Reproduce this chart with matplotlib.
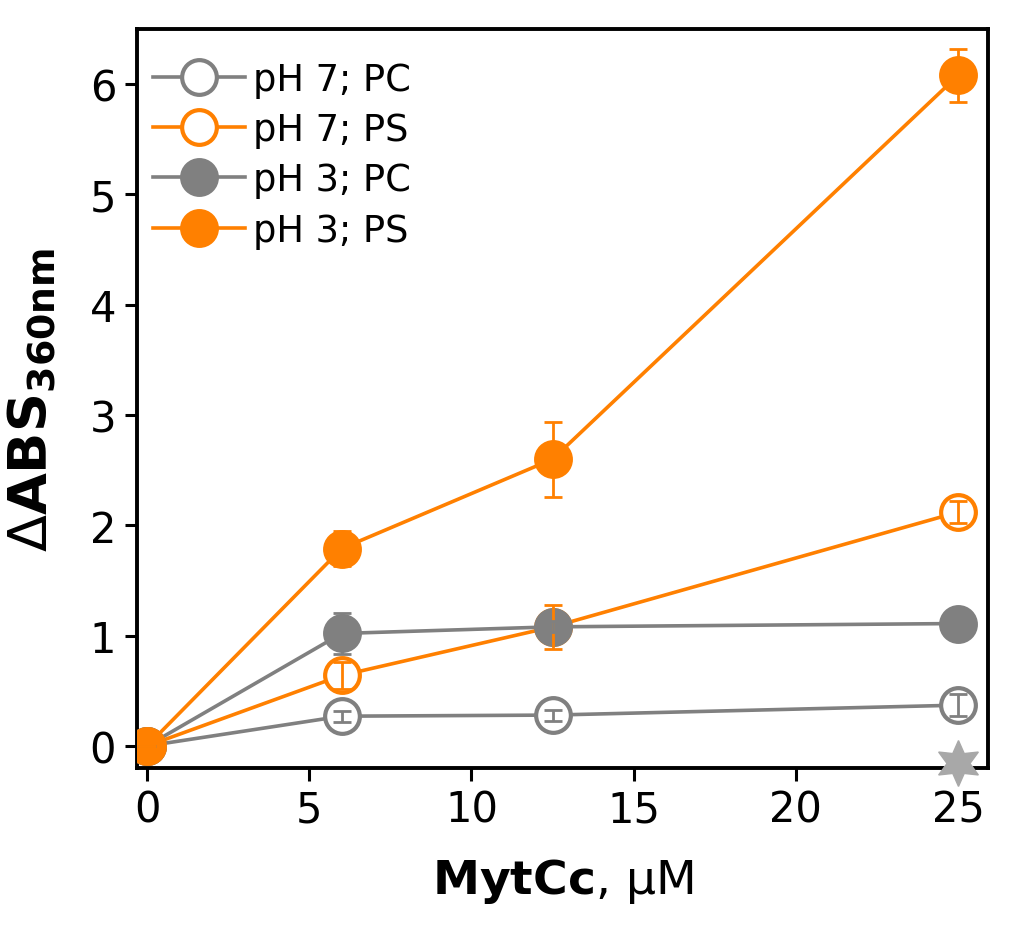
import numpy as np
import matplotlib
matplotlib.use('Agg')
import matplotlib.pyplot as plt

conc = [0, 6, 12.5, 25]

ph7_pc = [0, 0.27, 0.28, 0.37]
ph7_pc_err = [0, 0.05, 0.05, 0.10]
ph7_ps = [0, 0.64, 1.08, 2.12]
ph7_ps_err = [0, 0.12, 0.20, 0.10]
ph3_pc = [0, 1.02, 1.08, 1.11]
ph3_pc_err = [0, 0.19, 0.05, 0.05]
ph3_ps = [0, 1.79, 2.60, 6.08]
ph3_ps_err = [0, 0.16, 0.34, 0.24]

# marker below the x axis at 25 uM
star_x = [25]
star_y = [-0.15]

grey = '#808080'
orange = '#ff8000'

fig = plt.figure(figsize=(10.24, 9.29), dpi=100)
ax = fig.add_axes([0.1338, 0.1722, 0.831, 0.7955])

series = [
    (ph7_pc, ph7_pc_err, grey, 'white', 'pH 7; PC'),
    (ph7_ps, ph7_ps_err, orange, 'white', 'pH 7; PS'),
    (ph3_pc, ph3_pc_err, grey, grey, 'pH 3; PC'),
    (ph3_ps, ph3_ps_err, orange, orange, 'pH 3; PS'),
]

for i, (y, err, col, face, lab) in enumerate(series):
    ax.plot(conc, y, '-o', color=col, lw=2.6, ms=25, mfc=face, mec=col,
            mew=3, label=lab, zorder=3 + i)
    ax.errorbar(conc, y, yerr=err, fmt='none', ecolor=col, elinewidth=2,
                capsize=6.5, capthick=2, zorder=10)

ax.plot(star_x, star_y, marker=(6, 1, 0), color='#a8a8a8', ms=33, ls='none',
        zorder=12, clip_on=False)

ax.set_xlim(-0.31, 25.92)
ax.set_ylim(-0.20, 6.50)
ax.set_xticks([0, 5, 10, 15, 20, 25])
ax.set_yticks([0, 1, 2, 3, 4, 5, 6])
ax.tick_params(labelsize=30, width=2.2, length=9, pad=6, direction='out')
for s in ax.spines.values():
    s.set_linewidth(2.8)

ax.set_xlabel(r'$\bf{MytCc}$, μM', fontsize=34, labelpad=18)
ax.set_ylabel(r'$\Delta\mathbf{ABS}_{\mathbf{360nm}}$', fontsize=39, labelpad=22)

ax.legend(loc='upper left', bbox_to_anchor=(0.019, 0.957), frameon=False,
          fontsize=26.5, handlelength=2.5, handletextpad=0.2, labelspacing=0.36,
          borderpad=0, borderaxespad=0, markerscale=1.0)

fig.savefig('out.png', dpi=100)
